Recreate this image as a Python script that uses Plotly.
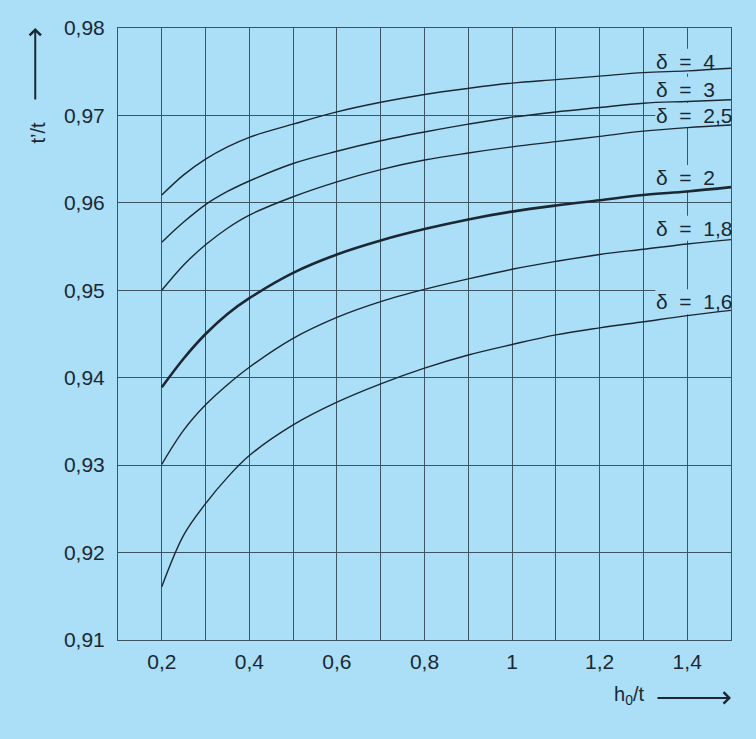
import plotly.graph_objects as go

h_ratio = [0.2, 0.25, 0.3, 0.35, 0.4, 0.5, 0.6, 0.7, 0.8, 0.9, 1.0, 1.1, 1.2, 1.3, 1.4, 1.5]

# t'/t for each delta
d4 = [0.9609, 0.9632, 0.9650, 0.9664, 0.9675, 0.9690, 0.9704, 0.9715, 0.9724, 0.9731, 0.9737, 0.9741, 0.9745, 0.9749, 0.9751, 0.9754]
d3 = [0.9555, 0.9578, 0.9598, 0.9613, 0.9625, 0.9645, 0.9659, 0.9671, 0.9681, 0.9690, 0.9698, 0.9704, 0.9709, 0.9714, 0.9716, 0.9718]
d25 = [0.9500, 0.9529, 0.9552, 0.9571, 0.9586, 0.9607, 0.9624, 0.9638, 0.9649, 0.9657, 0.9664, 0.9670, 0.9676, 0.9682, 0.9686, 0.9689]
d2 = [0.9389, 0.9422, 0.9450, 0.9473, 0.9491, 0.9520, 0.9541, 0.9557, 0.9570, 0.9581, 0.9590, 0.9597, 0.9603, 0.9609, 0.9613, 0.9618]
d18 = [0.9301, 0.9340, 0.9369, 0.9392, 0.9412, 0.9445, 0.9469, 0.9487, 0.9501, 0.9513, 0.9524, 0.9533, 0.9541, 0.9547, 0.9553, 0.9558]
d16 = [0.9161, 0.9220, 0.9256, 0.9286, 0.9311, 0.9346, 0.9372, 0.9393, 0.9411, 0.9426, 0.9438, 0.9449, 0.9457, 0.9464, 0.9471, 0.9477]

curves = [d4, d3, d25, d2, d18, d16]
labels = ["δ\u00a0 = \u00a04", "δ\u00a0 = \u00a03", "δ\u00a0 = \u00a02,5",
          "δ\u00a0 = \u00a02", "δ\u00a0 = \u00a01,8", "δ\u00a0 = \u00a01,6"]
label_y = [0.9762, 0.9730, 0.9700, 0.9629, 0.9571, 0.9487]
widths = [1.4, 1.4, 1.4, 2.6, 1.4, 1.4]

x_ticks = [0.2, 0.3, 0.4, 0.5, 0.6, 0.7, 0.8, 0.9, 1.0, 1.1, 1.2, 1.3, 1.4]
x_text = ["0,2", "", "0,4", "", "0,6", "", "0,8", "", "1", "", "1,2", "", "1,4"]
y_ticks = [0.91, 0.92, 0.93, 0.94, 0.95, 0.96, 0.97, 0.98]
y_text = ["0,91", "0,92", "0,93", "0,94", "0,95", "0,96", "0,97", "0,98"]

bg = "#aadff7"
ink = "#1b2833"
grid = "#3d5563"
font = "Liberation Sans, Arial, sans-serif"

fig = go.Figure()
for ys, w in zip(curves, widths):
    fig.add_trace(go.Scatter(x=h_ratio, y=ys, mode="lines",
                             line=dict(color=ink, width=w, shape="spline", smoothing=1.0),
                             showlegend=False, hoverinfo="skip"))

for txt, yy in zip(labels, label_y):
    # patch behind the label hides the grid but not the curves
    fig.add_shape(type="rect", layer="between", x0=1.327, x1=1.5, y0=yy - 0.00143, y1=yy + 0.00143,
                  fillcolor=bg, line=dict(width=0))
    fig.add_annotation(x=1.325, y=yy, text=txt, showarrow=False, xanchor="left",
                       yanchor="middle", font=dict(family=font, size=21, color=ink))

# axis titles with arrows
fig.add_annotation(xref="paper", yref="paper", x=-0.152, y=0.85, text="t’/t",
                   textangle=-90, showarrow=False, font=dict(family=font, size=20, color=ink))
fig.add_annotation(xref="paper", yref="paper", x=-0.135, y=1.0, text="", showarrow=True,
                   ax=0, ay=73, arrowhead=4, arrowsize=1.1, arrowwidth=2, arrowcolor=ink)
fig.add_annotation(xref="paper", yref="paper", x=0.862, y=-0.115, text="h<sub>0</sub>/t",
                   showarrow=False, font=dict(family=font, size=20, color=ink))
fig.add_annotation(xref="paper", yref="paper", x=1.0, y=-0.0947, text="", showarrow=True,
                   ax=-75, ay=0, arrowhead=4, arrowsize=1.1, arrowwidth=2, arrowcolor=ink)

fig.update_layout(
    width=756, height=739,
    paper_bgcolor=bg, plot_bgcolor=bg,
    margin=dict(l=118, r=25, t=28, b=99),
    font=dict(family=font, size=21, color=ink),
    xaxis=dict(range=[0.1, 1.5], tickvals=x_ticks, ticktext=x_text, showgrid=True,
               gridcolor=grid, gridwidth=1, showline=True, linecolor=grid, linewidth=1,
               mirror=True, zeroline=False, ticks="", ticklabelstandoff=3),
    yaxis=dict(range=[0.91, 0.98], tickvals=y_ticks, ticktext=y_text, showgrid=True,
               gridcolor=grid, gridwidth=1, showline=True, linecolor=grid, linewidth=1,
               mirror=True, zeroline=False, ticks="", ticklabelstandoff=8),
)

fig.write_html("out.html", config={"displayModeBar": False},
               post_script="document.body.style.margin='0';")
